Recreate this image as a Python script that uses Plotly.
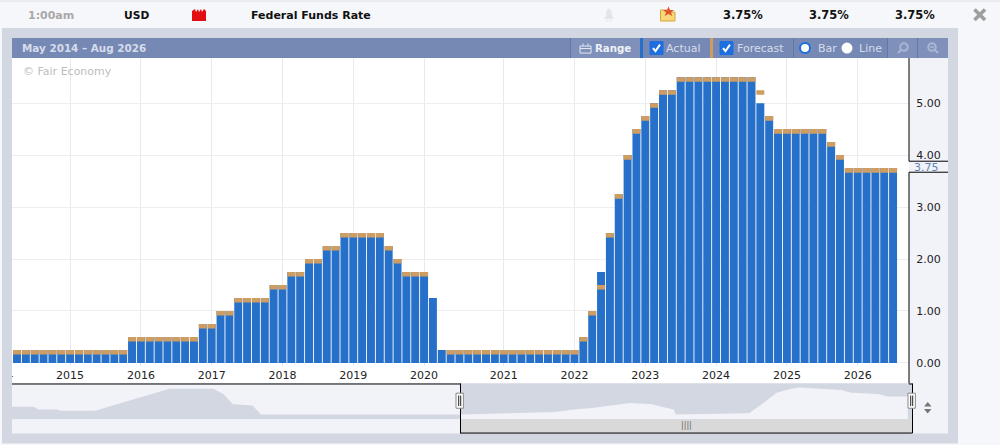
import plotly.graph_objects as go

W = 1000
H = 450
Y_FIX = 1.008  # the page comes out slightly squeezed vertically, so pixel positions are stretched back

# Federal Funds Rate per FOMC meeting, May 2014 - Aug 2026
actual = [0.25] * 13 + [0.50] * 8 + [0.75] * 2 + [1.00] * 2 + [1.25] * 4 + [1.50] * 2 + [1.75] * 2 + [2.00] * 2 \
    + [2.25] * 2 + [2.50] * 5 + [2.25, 2.00, 1.75, 1.75, 1.75, 1.25, 0.25] + [0.25] * 15 \
    + [0.50, 1.00, 1.75, 2.50, 3.25, 4.00, 4.50, 4.75, 5.00, 5.25, 5.25] + [5.50] * 9 \
    + [5.00, 4.75] + [4.50] * 6 + [4.25, 4.00] + [3.75] * 6
forecast = [0.25] * 13 + [0.50] * 8 + [0.75] * 2 + [1.00] * 2 + [1.25] * 4 + [1.50] * 2 + [1.75] * 2 + [2.00] * 2 \
    + [2.25] * 2 + [2.50] * 5 + [2.25, 2.00, 1.75, 1.75, 1.75, None, None] + [0.25] * 15 \
    + [0.50, 1.00, 1.50, 2.50, 3.25, 4.00, 4.50, 4.75, 5.00, 5.25, 5.25] + [5.50] * 9 \
    + [5.25, 4.75] + [4.50] * 6 + [4.25, 4.00] + [3.75] * 6
year_ticks = [6, 14, 22, 30, 38, 46, 55, 63, 71, 79, 87, 95]
year_labels = ["2015", "2016", "2017", "2018", "2019", "2020", "2021", "2022", "2023", "2024", "2025", "2026"]

# navigator series, whole history
nav_dates = ["2002-03-25", "2002-11-01", "2002-12-10", "2003-06-20", "2003-07-20", "2004-06-25", "2006-06-30",
             "2007-09-10", "2007-12-15", "2008-03-20", "2008-10-01", "2008-12-20"]
nav_rates = [1.75, 1.75, 1.25, 1.25, 1.00, 1.00, 5.25, 5.25, 4.25, 2.25, 2.00, 0.25]
nav_dates_sel = ["2014-05-15", "2015-12-15", "2016-12-15", "2017-03-15", "2017-06-15", "2017-12-15", "2018-12-20",
                 "2019-07-30", "2019-10-30", "2020-03-01", "2020-03-20", "2022-03-15", "2022-06-15", "2022-12-15",
                 "2023-05-05", "2023-07-30", "2024-09-15", "2024-12-20", "2025-09-15", "2025-12-15", "2026-07-05"]
nav_rates_sel = [0.25, 0.50, 0.75, 1.00, 1.25, 1.50, 2.50, 2.25, 1.75, 1.25, 0.25, 0.50, 1.75, 4.50,
                 5.25, 5.50, 5.00, 4.50, 4.25, 3.75, 3.75]
nav_dates = nav_dates + nav_dates_sel[:1]
nav_rates = nav_rates + [0.25]

FC_HEIGHT = 0.088  # the forecast is a thin slab sitting under its value
BLUE = "#2670ca"
TAN = "#cf9d60"
PANEL = "#d3d7e1"
SOFT = "#f2f3f8"
HEAD = "#7689b5"
HEAD_TXT = "#d6dcea"


def fx(x):
    return x / W


def fy(y):
    return 1 - y * Y_FIX / H


def rect(x0, y0, x1, y1, fill, layer="below", line=None):
    return dict(type="rect", xref="paper", yref="paper", x0=fx(x0), x1=fx(x1), y0=fy(y0), y1=fy(y1),
                fillcolor=fill, line=dict(width=0 if line is None else 1, color=line or fill), layer=layer)


def seg(x0, y0, x1, y1, color="#000000", width=1, layer="above"):
    return dict(type="line", xref="paper", yref="paper", x0=fx(x0), x1=fx(x1), y0=fy(y0), y1=fy(y1),
                line=dict(color=color, width=width), layer=layer)


def poly(points, fill, line=None, width=1):
    path = "M " + " L ".join(f"{fx(a):.5f},{fy(b):.5f}" for a, b in points) + " Z"
    return dict(type="path", xref="paper", yref="paper", path=path, fillcolor=fill,
                line=dict(width=width if line else 0, color=line or fill), layer="above")


def disc(cx, cy, r, fill, line=None, width=1):
    return dict(type="circle", xref="paper", yref="paper", x0=fx(cx - r), x1=fx(cx + r), y0=fy(cy + r), y1=fy(cy - r),
                fillcolor=fill, line=dict(width=width if line else 0, color=line or fill), layer="above")


def label(x, y, text, color="#111111", size=11, bold=False, anchor="left"):
    return dict(x=fx(x), y=fy(y), xref="paper", yref="paper", text=f"<b>{text}</b>" if bold else text,
                showarrow=False, xanchor=anchor, yanchor="middle", font=dict(size=size, color=color), borderpad=0)


# chrome of the page and the panel
shapes = [
    rect(0, 0, 1000, 450, "#f6f7fb"),
    rect(0, 0, 1000, 2, "#ececf0"),
    rect(2, 28, 958, 443, PANEL),
    rect(12, 38, 948, 58, HEAD),
    rect(570, 38, 640, 58, "#7f91bb"),
    rect(887, 38, 948, 58, "#7f91bb"),
    rect(12, 58, 909, 383, "#ffffff"),
    rect(909, 58, 948, 433, SOFT),
    rect(12, 383, 460, 433, SOFT),
    rect(460, 383, 912, 418.7, PANEL),
    rect(460, 418.7, 912, 432.5, "#d9d9d9"),
    rect(640, 38, 643, 58, BLUE),
    rect(710, 38, 713, 58, TAN),
]
for sep in [570.5, 793.5, 887.5, 917.5]:
    shapes.append(seg(sep, 38, sep, 58, "#6478a6", 1))

# axis lines and the 3.75 marker
shapes += [
    seg(909, 58, 909, 161),
    seg(909, 172, 909, 383),
    seg(909, 161, 948, 161),
    seg(909, 172, 948, 172),
    seg(12, 383.5, 460.5, 383.5),
    seg(460.5, 383, 460.5, 432.5),
    seg(460, 432.5, 912.5, 432.5),
    seg(912.5, 383, 912.5, 432.5),
    seg(909, 383.5, 912.5, 383.5),
]
# navigator handles
for hx in [459.7, 911.7]:
    shapes.append(rect(hx - 3.7, 392.7, hx + 3.7, 407.7, "#ffffff", "above", "#8a8a8a"))
    shapes.append(seg(hx - 1, 395, hx - 1, 405.5, "#222222", 1))
    shapes.append(seg(hx + 1, 395, hx + 1, 405.5, "#222222", 1))
shapes.append(poly([(924, 406), (931.5, 406), (927.7, 401.5)], "#777777"))
shapes.append(poly([(924, 408.5), (931.5, 408.5), (927.7, 413)], "#777777"))

# icons of the top row
shapes.append(poly([(192, 21), (192, 11), (195, 9), (196, 12), (198, 9), (199, 12), (201, 9), (202, 12), (204, 9),
                    (206, 11), (206, 21)], "#e10f12"))
shapes.append(poly([(604, 19), (606, 16), (606.5, 11), (609, 8), (611.5, 11), (612, 16), (614, 19)], "#e4e5ea"))
shapes.append(rect(606, 20, 612, 21.5, "#eceded", "above"))
shapes.append(poly([(660.5, 10), (667, 10), (668, 12), (675, 12), (675, 21), (660.5, 21)], "#f8d778", "#d7a53f"))
shapes.append(poly([(668.5, 6.5), (670, 10), (674, 10), (671, 12.5), (672.3, 16), (668.5, 14), (664.7, 16), (666, 12.5),
                    (663, 10), (667, 10)], "#e2552c"))
shapes.append(seg(974.5, 9.5, 985, 20, "#9d9d9d", 3.5))
shapes.append(seg(985, 9.5, 974.5, 20, "#9d9d9d", 3.5))

# header controls
shapes.append(rect(580, 46, 591, 53, "rgba(0,0,0,0)", "above", "#e4e8f2"))
shapes.append(seg(580, 48.5, 591, 48.5, "#e4e8f2"))
shapes.append(seg(583, 43.5, 583, 46, "#e4e8f2"))
shapes.append(seg(588, 43.5, 588, 46, "#e4e8f2"))
for bx in [650, 720]:
    shapes.append(rect(bx, 41.5, bx + 13, 54.5, "#1d6fe0", "above", "#1d6fe0"))
    shapes.append(dict(type="path", xref="paper", yref="paper", layer="above", line=dict(color="#ffffff", width=2),
                       path=f"M {fx(bx + 3):.5f},{fy(48):.5f} L {fx(bx + 5.5):.5f},{fy(51):.5f} "
                            f"L {fx(bx + 10):.5f},{fy(44.5):.5f}"))
shapes.append(disc(805, 48, 5, "#ffffff", "#1a6fe0", 2))
shapes.append(disc(847, 48, 5.5, "#ffffff"))
shapes.append(disc(904, 47, 3.8, "rgba(0,0,0,0)", "#a9b7d6", 2))
shapes.append(seg(901, 50, 898, 53, "#a9b7d6", 2))
shapes.append(disc(932, 47, 3.8, "rgba(0,0,0,0)", "#a9b7d6", 2))
shapes.append(seg(930, 47, 934, 47, "#a9b7d6", 1.5))
shapes.append(seg(935, 50, 938, 53, "#a9b7d6", 2))

annotations = [
    label(27, 15, "1:00am", "#a8a8a8", bold=True),
    label(123, 15, "USD", size=10.7, bold=True),
    label(250, 15, "Federal Funds Rate", bold=True),
    label(722, 15, "3.75%", size=11.5, bold=True),
    label(808, 15, "3.75%", size=11.5, bold=True),
    label(894, 15, "3.75%", size=11.5, bold=True),
    label(21, 48, "May 2014 – Aug 2026", HEAD_TXT, size=10.4, bold=True),
    label(22, 71, "© Fair Economy", "#bdbdbd"),
    label(594, 48.5, "Range", "#eef1f7", size=10.2, bold=True),
    label(665, 48.5, "Actual", HEAD_TXT),
    label(736, 48.5, "Forecast", HEAD_TXT),
    label(817, 48.5, "Bar", HEAD_TXT),
    label(858, 48.5, "Line", HEAD_TXT),
    label(913, 167, "3.75", "#5f85b5"),
    label(686, 424.5, "||||", "#666666", size=8, anchor="center"),
]

idx = list(range(len(actual)))
fc_base = [None if f is None else f - FC_HEIGHT for f in forecast]
fc_top = [None if f is None else FC_HEIGHT for f in forecast]

fig = go.Figure()
fig.add_trace(go.Bar(x=idx, y=actual, marker=dict(color=BLUE, line_width=0), width=0.9, name="Actual"))
fig.add_trace(go.Bar(x=idx, y=fc_top, base=fc_base, marker=dict(color=TAN, line_width=0), width=0.9, name="Forecast"))

# navigator, grey left of the window and inverted inside it
FLOOR = -0.66
floor_line = dict(width=0)
fig.add_trace(go.Scatter(x=nav_dates, y=[FLOOR] * len(nav_dates), mode="lines", line=floor_line, xaxis="x2", yaxis="y2"))
fig.add_trace(go.Scatter(x=nav_dates, y=nav_rates, mode="lines", line=floor_line, fill="tonexty", fillcolor=PANEL,
                         xaxis="x2", yaxis="y2"))
fig.add_trace(go.Scatter(x=nav_dates_sel, y=[FLOOR] * len(nav_dates_sel), mode="lines", line=floor_line,
                         xaxis="x2", yaxis="y2"))
fig.add_trace(go.Scatter(x=nav_dates_sel, y=nav_rates_sel, mode="lines", line=floor_line, fill="tonexty",
                         fillcolor=SOFT, xaxis="x2", yaxis="y2"))

# 2014 label, cut off by the plot edge
fig.add_trace(go.Scatter(x=[-2], y=[0.45], mode="text", text=["2014"], cliponaxis=True,
                         textfont=dict(size=11, color="#222222"), xaxis="x3", yaxis="y3"))

x_range = [-0.565, 100.8]
fig.update_layout(
    width=W,
    height=H,
    margin=dict(l=0, r=0, t=0, b=0),
    autosize=False,
    showlegend=False,
    barmode="overlay",
    paper_bgcolor="#ffffff",
    plot_bgcolor="rgba(0,0,0,0)",
    font=dict(family="DejaVu Sans", size=11, color="#222222"),
    shapes=shapes,
    annotations=annotations,
    xaxis=dict(domain=[fx(12), fx(909)], range=x_range, tickvals=year_ticks, ticktext=year_labels,
               showgrid=True, gridcolor="#e9eaf0", gridwidth=1, zeroline=False, ticks="", showline=False,
               anchor="y", tickangle=0, tickfont=dict(size=11, color="#222222"), ticklabelstandoff=1),
    yaxis=dict(domain=[fy(366), fy(58)], range=[-3.5 / 51.9, (362.5 - 58) / 51.9], side="right",
               tickvals=[0, 1, 2, 3, 4, 5], tickformat=".2f", showgrid=True, gridcolor="#eeeef2", gridwidth=1,
               zeroline=False, ticks="outside", ticklen=4, tickcolor="rgba(0,0,0,0)", showline=False, anchor="x",
               tickfont=dict(size=11, color="#222222")),
    xaxis2=dict(domain=[fx(12), fx(912)], range=["2002-03-25", "2026-08-15"], type="date", visible=False,
                anchor="y2"),
    yaxis2=dict(domain=[fy(418.7), fy(383)], range=[FLOOR, 6.28], visible=False, anchor="x2"),
    xaxis3=dict(domain=[fx(12), fx(909)], range=x_range, visible=False, anchor="y3"),
    yaxis3=dict(domain=[fy(383), fy(366)], range=[0, 1], visible=False, anchor="x3"),
)

fig.write_html("out.html", config=dict(displayModeBar=False),
               post_script="document.body.style.margin='0';document.body.style.overflow='hidden';")
